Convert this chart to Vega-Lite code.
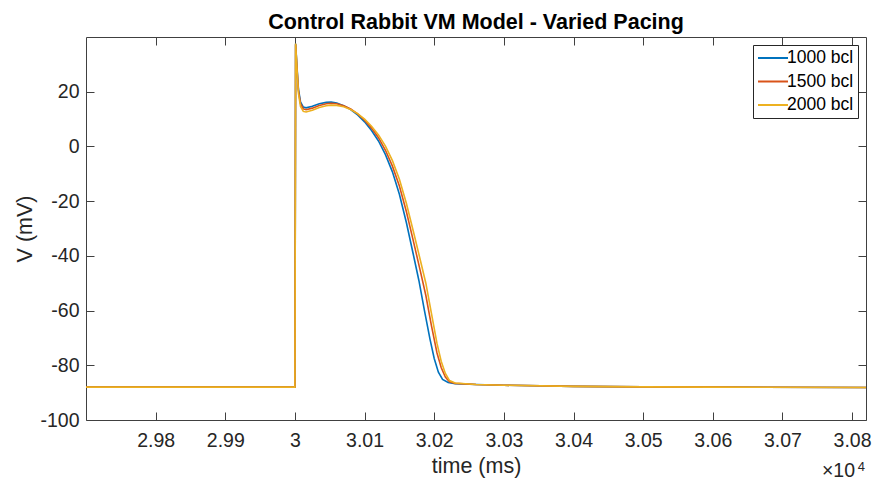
{
  "$schema": "https://vega.github.io/schema/vega-lite/v6.json",
  "width": 780,
  "height": 383,
  "autosize": {"type": "none"},
  "padding": {"left": 86, "top": 37, "right": 16, "bottom": 67},
  "background": "white",
  "config": {
    "view": {"stroke": null},
    "font": "Liberation Sans",
    "axis": {
      "grid": false,
      "domainColor": "#404040",
      "tickColor": "#404040",
      "labelColor": "#262626",
      "titleColor": "#262626",
      "labelFont": "Liberation Sans",
      "titleFont": "Liberation Sans",
      "labelFontSize": 19.5,
      "titleFontSize": 21.5,
      "titleFontWeight": "normal",
      "tickSize": -8,
      "tickWidth": 1,
      "domainWidth": 1
    }
  },
  "title": {
    "text": "Control Rabbit VM Model - Varied Pacing",
    "font": "Liberation Sans",
    "fontSize": 21.5,
    "fontWeight": "bold",
    "color": "#000000",
    "baseline": "alphabetic",
    "offset": 9,
    "dy": 23
  },
  "datasets": {
    "ap": [
      {"s": "1000 bcl", "t": 29700, "v": -88},
      {"s": "1000 bcl", "t": 30000, "v": -88},
      {"s": "1000 bcl", "t": 30001, "v": 37.5},
      {"s": "1000 bcl", "t": 30003, "v": 29},
      {"s": "1000 bcl", "t": 30005, "v": 21},
      {"s": "1000 bcl", "t": 30008, "v": 16.3},
      {"s": "1000 bcl", "t": 30012, "v": 14.4},
      {"s": "1000 bcl", "t": 30016, "v": 14.1},
      {"s": "1000 bcl", "t": 30025, "v": 14.7},
      {"s": "1000 bcl", "t": 30035, "v": 15.6},
      {"s": "1000 bcl", "t": 30045, "v": 16.1},
      {"s": "1000 bcl", "t": 30052, "v": 16.2},
      {"s": "1000 bcl", "t": 30060, "v": 15.9},
      {"s": "1000 bcl", "t": 30070, "v": 14.9},
      {"s": "1000 bcl", "t": 30080, "v": 13.5},
      {"s": "1000 bcl", "t": 30090, "v": 11.5},
      {"s": "1000 bcl", "t": 30100, "v": 9.0},
      {"s": "1000 bcl", "t": 30110, "v": 5.8},
      {"s": "1000 bcl", "t": 30120, "v": 2.0},
      {"s": "1000 bcl", "t": 30130, "v": -3.0},
      {"s": "1000 bcl", "t": 30140, "v": -9.3},
      {"s": "1000 bcl", "t": 30150, "v": -17.5},
      {"s": "1000 bcl", "t": 30160, "v": -27.8},
      {"s": "1000 bcl", "t": 30170, "v": -39.5},
      {"s": "1000 bcl", "t": 30178, "v": -49.0},
      {"s": "1000 bcl", "t": 30186, "v": -60.0},
      {"s": "1000 bcl", "t": 30194, "v": -70.5},
      {"s": "1000 bcl", "t": 30200, "v": -77.5},
      {"s": "1000 bcl", "t": 30206, "v": -82.5},
      {"s": "1000 bcl", "t": 30212, "v": -85.2},
      {"s": "1000 bcl", "t": 30220, "v": -86.3},
      {"s": "1000 bcl", "t": 30230, "v": -86.7},
      {"s": "1000 bcl", "t": 30260, "v": -87.0},
      {"s": "1000 bcl", "t": 30300, "v": -87.3},
      {"s": "1000 bcl", "t": 30400, "v": -87.7},
      {"s": "1000 bcl", "t": 30500, "v": -87.9},
      {"s": "1000 bcl", "t": 30600, "v": -88.0},
      {"s": "1000 bcl", "t": 30820, "v": -88.1},
      {"s": "1500 bcl", "t": 29700, "v": -88},
      {"s": "1500 bcl", "t": 30000, "v": -88},
      {"s": "1500 bcl", "t": 30001, "v": 37.3},
      {"s": "1500 bcl", "t": 30003, "v": 28.5},
      {"s": "1500 bcl", "t": 30005, "v": 20.5},
      {"s": "1500 bcl", "t": 30008, "v": 15.6},
      {"s": "1500 bcl", "t": 30012, "v": 13.7},
      {"s": "1500 bcl", "t": 30016, "v": 13.4},
      {"s": "1500 bcl", "t": 30025, "v": 14.0},
      {"s": "1500 bcl", "t": 30035, "v": 15.0},
      {"s": "1500 bcl", "t": 30045, "v": 15.6},
      {"s": "1500 bcl", "t": 30052, "v": 15.8},
      {"s": "1500 bcl", "t": 30060, "v": 15.6},
      {"s": "1500 bcl", "t": 30070, "v": 14.9},
      {"s": "1500 bcl", "t": 30080, "v": 13.7},
      {"s": "1500 bcl", "t": 30090, "v": 11.9},
      {"s": "1500 bcl", "t": 30100, "v": 9.6},
      {"s": "1500 bcl", "t": 30110, "v": 6.7},
      {"s": "1500 bcl", "t": 30120, "v": 3.2},
      {"s": "1500 bcl", "t": 30130, "v": -1.4},
      {"s": "1500 bcl", "t": 30140, "v": -7.2},
      {"s": "1500 bcl", "t": 30150, "v": -14.5},
      {"s": "1500 bcl", "t": 30160, "v": -23.8},
      {"s": "1500 bcl", "t": 30170, "v": -34.5},
      {"s": "1500 bcl", "t": 30180, "v": -45.5},
      {"s": "1500 bcl", "t": 30188, "v": -54.5},
      {"s": "1500 bcl", "t": 30196, "v": -65.5},
      {"s": "1500 bcl", "t": 30204, "v": -75.5},
      {"s": "1500 bcl", "t": 30210, "v": -80.8},
      {"s": "1500 bcl", "t": 30216, "v": -84.3},
      {"s": "1500 bcl", "t": 30222, "v": -86.0},
      {"s": "1500 bcl", "t": 30230, "v": -86.6},
      {"s": "1500 bcl", "t": 30260, "v": -87.0},
      {"s": "1500 bcl", "t": 30300, "v": -87.3},
      {"s": "1500 bcl", "t": 30400, "v": -87.7},
      {"s": "1500 bcl", "t": 30500, "v": -87.9},
      {"s": "1500 bcl", "t": 30600, "v": -88.0},
      {"s": "1500 bcl", "t": 30820, "v": -88.1},
      {"s": "2000 bcl", "t": 29700, "v": -88},
      {"s": "2000 bcl", "t": 30000, "v": -88},
      {"s": "2000 bcl", "t": 30001, "v": 37.6},
      {"s": "2000 bcl", "t": 30003, "v": 28},
      {"s": "2000 bcl", "t": 30005, "v": 19.5},
      {"s": "2000 bcl", "t": 30008, "v": 14.6},
      {"s": "2000 bcl", "t": 30012, "v": 12.8},
      {"s": "2000 bcl", "t": 30016, "v": 12.6},
      {"s": "2000 bcl", "t": 30025, "v": 13.2},
      {"s": "2000 bcl", "t": 30035, "v": 14.2},
      {"s": "2000 bcl", "t": 30045, "v": 14.9},
      {"s": "2000 bcl", "t": 30052, "v": 15.1},
      {"s": "2000 bcl", "t": 30060, "v": 15.0},
      {"s": "2000 bcl", "t": 30070, "v": 14.5},
      {"s": "2000 bcl", "t": 30080, "v": 13.5},
      {"s": "2000 bcl", "t": 30090, "v": 12.0},
      {"s": "2000 bcl", "t": 30100, "v": 10.0},
      {"s": "2000 bcl", "t": 30110, "v": 7.4},
      {"s": "2000 bcl", "t": 30120, "v": 4.2},
      {"s": "2000 bcl", "t": 30130, "v": 0.1},
      {"s": "2000 bcl", "t": 30140, "v": -5.2},
      {"s": "2000 bcl", "t": 30150, "v": -12.0},
      {"s": "2000 bcl", "t": 30160, "v": -20.8},
      {"s": "2000 bcl", "t": 30170, "v": -31.0},
      {"s": "2000 bcl", "t": 30180, "v": -41.5},
      {"s": "2000 bcl", "t": 30188, "v": -50.0},
      {"s": "2000 bcl", "t": 30196, "v": -61.0},
      {"s": "2000 bcl", "t": 30204, "v": -72.0},
      {"s": "2000 bcl", "t": 30210, "v": -78.5},
      {"s": "2000 bcl", "t": 30216, "v": -83.0},
      {"s": "2000 bcl", "t": 30222, "v": -85.6},
      {"s": "2000 bcl", "t": 30230, "v": -86.5},
      {"s": "2000 bcl", "t": 30260, "v": -87.0},
      {"s": "2000 bcl", "t": 30300, "v": -87.3},
      {"s": "2000 bcl", "t": 30400, "v": -87.7},
      {"s": "2000 bcl", "t": 30500, "v": -87.9},
      {"s": "2000 bcl", "t": 30600, "v": -88.0},
      {"s": "2000 bcl", "t": 30820, "v": -88.1}
    ]
  },
  "data": {"name": "ap"},
  "layer": [
    {
      "mark": {"type": "line", "strokeWidth": 1.6, "clip": true},
      "encoding": {
        "x": {
          "field": "t",
          "type": "quantitative",
          "scale": {"domain": [29700, 30820], "nice": false, "zero": false},
          "axis": {
            "orient": "bottom",
            "values": [29800, 29900, 30000, 30100, 30200, 30300, 30400, 30500, 30600, 30700, 30800],
            "labelExpr": "datum.value == 30000 ? '3' : format(datum.value / 10000, '.2f')",
            "labelPadding": 19.5,
            "title": "time (ms)",
            "titlePadding": 5
          }
        },
        "y": {
          "field": "v",
          "type": "quantitative",
          "scale": {"domain": [-100, 40], "nice": false, "zero": false},
          "axis": {
            "orient": "left",
            "values": [-100, -80, -60, -40, -20, 0, 20],
            "labelExpr": "datum.value < 0 ? '-' + abs(datum.value) : '' + datum.value",
            "labelPadding": 15,
            "title": "V (mV)",
            "titlePadding": 3
          }
        },
        "color": {
          "field": "s",
          "type": "nominal",
          "scale": {"domain": ["1000 bcl", "1500 bcl", "2000 bcl"], "range": ["#0072BD", "#D95319", "#EDB120"]},
          "legend": {
            "orient": "none",
            "legendX": 667,
            "legendY": 8,
            "title": null,
            "labelFont": "Liberation Sans",
            "labelFontSize": 17.5,
            "labelColor": "#000000",
            "symbolType": "M-1.94,0H1.94",
            "symbolSize": 240,
            "symbolStrokeWidth": 2,
            "symbolOffset": 7,
            "padding": 4,
            "rowPadding": 5.5,
            "labelOffset": 5,
            "strokeColor": "#262626",
            "fillColor": "white"
          }
        }
      }
    },
    {
      "mark": {"type": "line", "opacity": 0},
      "encoding": {
        "x": {
          "field": "t",
          "type": "quantitative",
          "axis": {
            "orient": "top",
            "values": [29800, 29900, 30000, 30100, 30200, 30300, 30400, 30500, 30600, 30700, 30800],
            "labels": false,
            "title": null
          }
        },
        "y": {
          "field": "v",
          "type": "quantitative",
          "axis": {
            "orient": "right",
            "values": [-100, -80, -60, -40, -20, 0, 20],
            "labels": false,
            "title": null
          }
        }
      }
    },
    {
      "data": {"values": [{}]},
      "mark": {"type": "text", "align": "right", "baseline": "alphabetic", "dy": 57, "dx": -11, "fontSize": 19.5, "font": "Liberation Sans", "color": "#262626"},
      "encoding": {
        "x": {"datum": 30820, "type": "quantitative", "axis": null},
        "y": {"datum": -100, "type": "quantitative", "axis": null},
        "text": {"value": "×10"}
      }
    },
    {
      "data": {"values": [{}]},
      "mark": {"type": "text", "align": "right", "baseline": "alphabetic", "dy": 50.5, "dx": -1, "fontSize": 13, "font": "Liberation Sans", "color": "#262626"},
      "encoding": {
        "x": {"datum": 30820, "type": "quantitative", "axis": null},
        "y": {"datum": -100, "type": "quantitative", "axis": null},
        "text": {"value": "4"}
      }
    }
  ],
  "resolve": {"axis": {"x": "independent", "y": "independent"}}
}
